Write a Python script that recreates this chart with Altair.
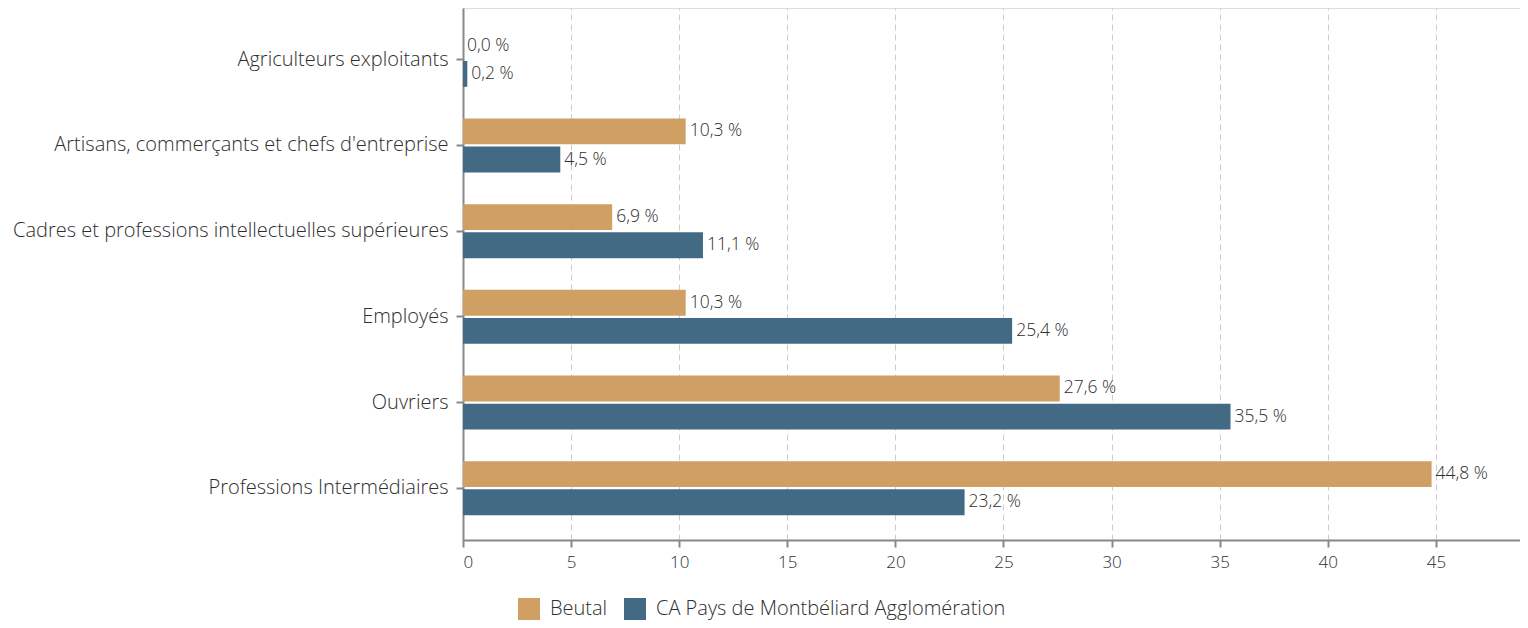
import altair as alt
import pandas as pd

categories = [
    "Agriculteurs exploitants",
    "Artisans, commerçants et chefs d'entreprise",
    "Cadres et professions intellectuelles supérieures",
    "Employés",
    "Ouvriers",
    "Professions Intermédiaires",
]
series = ["Beutal", "CA Pays de Montbéliard Agglomération"]
beutal = [0.0, 10.3, 6.9, 10.3, 27.6, 44.8]
ca = [0.2, 4.5, 11.1, 25.4, 35.5, 23.2]
x_ticks = [0, 5, 10, 15, 20, 25, 30, 35, 40, 45]
colors = ["#CF9F63", "#436A84"]

rows = []
for c, b, a in zip(categories, beutal, ca):
    for s, v in ((series[0], b), (series[1], a)):
        rows.append({"cat": c, "serie": s, "val": v,
                     "label": f"{v:.1f}".replace(".", ",") + " %"})
df = pd.DataFrame(rows)

FONT = "Open Sans"
W = 300
TXT = "#2e2e2e"

y_enc = alt.Y("cat:N", sort=categories, title=None,
              scale=alt.Scale(paddingInner=0.37, paddingOuter=0.29),
              axis=alt.Axis(labelFontSize=20, labelColor=TXT, labelFont=FONT,
                            labelFontWeight=W,
                            labelPadding=8, tickSize=7, tickColor="#888", tickWidth=2,
                            domainColor="#888", domainWidth=2, grid=False,
                            labelLimit=600))
yoff = alt.YOffset("serie:N", sort=series, scale=alt.Scale(paddingInner=0.08))
x_enc = alt.X("val:Q", title=None,
              scale=alt.Scale(domain=[0, 48.89], nice=False, zero=True),
              axis=alt.Axis(values=x_ticks, labelFontSize=17, labelColor=TXT,
                            labelFont=FONT, labelFontWeight=W, labelPadding=7, tickSize=7,
                            tickColor="#888", tickWidth=2, domainColor="#888",
                            domainWidth=2, grid=True, gridColor="#cccccc",
                            gridDash=[6, 4], gridWidth=1))

bars = alt.Chart(df).mark_bar().encode(
    x=x_enc, y=y_enc, yOffset=yoff,
    color=alt.Color("serie:N", sort=series,
                    scale=alt.Scale(domain=series, range=colors),
                    legend=alt.Legend(title=None, orient="none", direction="horizontal",
                                      legendX=55, legendY=590, symbolType="square",
                                      symbolSize=484, symbolStrokeWidth=0,
                                      labelFontSize=20, labelFont=FONT,
                                      labelFontWeight=W, labelLimit=600,
                                      labelColor=TXT, columnPadding=16,
                                      labelOffset=10, padding=0)),
)

texts = alt.Chart(df).mark_text(align="left", baseline="middle", dx=4,
                                fontSize=17.5, font=FONT, fontWeight=W, color=TXT).encode(
    x="val:Q", y=alt.Y("cat:N", sort=categories), yOffset=alt.YOffset("serie:N", sort=series),
    text="label:N",
)

chart = alt.layer(bars, texts).properties(
    width=1057, height=532,
    autosize=alt.AutoSizeParams(type="none"),
    padding={"left": 455, "top": 0, "right": 0, "bottom": 80},
).configure_view(stroke=None).configure(font=FONT)

chart.save("out.html", embed_options={"renderer": "svg", "actions": False})
